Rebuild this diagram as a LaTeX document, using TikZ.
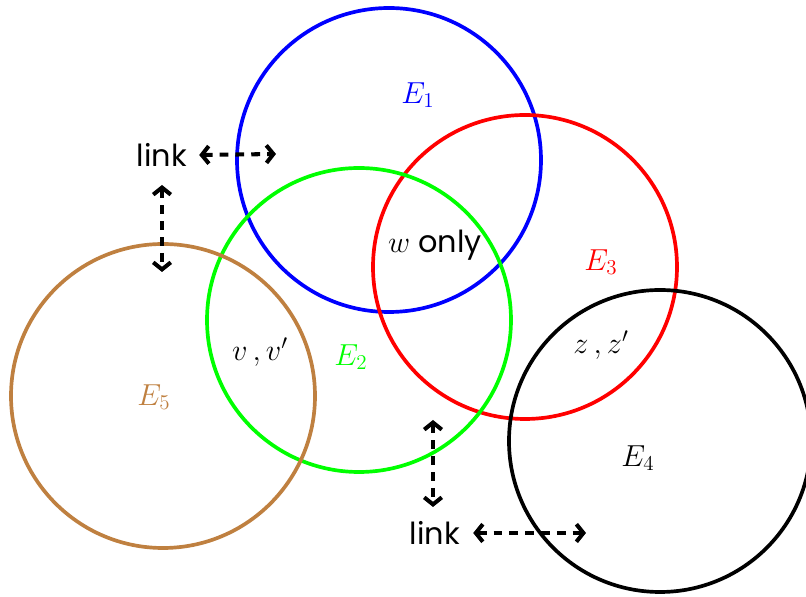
\documentclass[tikz,border=0pt]{standalone}
\usepackage{amsmath, amssymb, fontspec}
\setmainfont{Poppins}
\usetikzlibrary{arrows.meta}

\tikzset{
    setring/.style={line width=2.1pt},
    linkarrow/.style={line width=2.3pt, dash pattern=on 5pt off 4pt, {Straight Barb[length=4pt,width=10pt]}-{Straight Barb[length=4pt,width=10pt]}},
    lbl/.style={font=\LARGE}
}

\begin{document}
\begin{tikzpicture}[x=0.02cm, y=-0.02cm]
    \useasboundingbox (0,0) rectangle (806,597);

    % Sets
    \draw[setring, blue] (389,160) circle (152*0.02cm);
    \draw[setring, red] (525,267) circle (152*0.02cm);
    \draw[setring, green] (359,320) circle (152*0.02cm);
    \draw[setring, brown] (163,396) circle (152*0.02cm);
    \draw[setring, black] (660,441) circle (151*0.02cm);

    % Set names
    \node[lbl, blue] (e1) at (418,95) {$E_1$};
    \node[lbl, red] (e3) at (601,262) {$E_3$};
    \node[lbl, green] (e2) at (351,357) {$E_2$};
    \node[lbl, brown] (e5) at (154,397) {$E_5$};
    \node[lbl] (e4) at (638,458) {$E_4$};

    % Region labels
    \node[lbl] (wonly) at (435,245) {$w$ only};
    \node[lbl] (vv) at (260,352) {$v\,, v'$};
    \node[lbl] (zz) at (601,345) {$z\,, z'$};

    % Links
    \node[lbl] (linkA) at (162,155) {link};
    \node[lbl] (linkB) at (435,533) {link};
    \coordinate (aright) at (276,154);
    \coordinate (adown) at (162,272);
    \coordinate (bup) at (433,420);
    \coordinate (bright) at (586,533);
    \draw[linkarrow] (linkA.east) ++(6,0) -- (aright);
    \draw[linkarrow] (162,185) -- (adown);
    \draw[linkarrow] (bup) -- (433,507);
    \draw[linkarrow] (linkB.east) ++(7,0) -- (bright);
\end{tikzpicture}
\end{document}
